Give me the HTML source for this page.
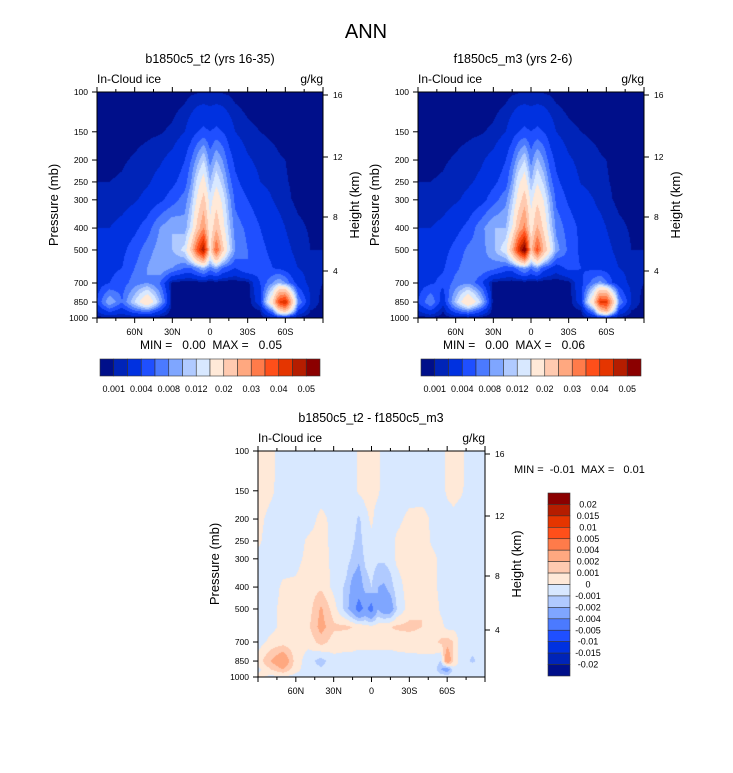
<!DOCTYPE html>
<html><head><meta charset="utf-8">
<style>
html,body{margin:0;padding:0;background:#fff;}
#wrap{position:relative;width:733px;height:773px;overflow:hidden;font-family:"Liberation Sans",sans-serif;}
canvas{position:absolute;}
svg{position:absolute;left:0;top:0;}
text{white-space:pre;}
</style></head>
<body>
<div id="wrap">
<canvas id="c1" style="left:97px;top:92px" width="226" height="226"></canvas>
<canvas id="c2" style="left:418px;top:92px" width="226" height="226"></canvas>
<canvas id="c3" style="left:258px;top:451px" width="227" height="226"></canvas>
<svg id="svg" width="733" height="773"></svg>
</div>
<script>
// ---- data ----
const lats=[90,80,70,60,50,40,30,20,15,10,5,0,-5,-10,-15,-20,-30,-40,-50,-55,-60,-65,-70,-80,-90];
const levs=[100,150,200,250,300,400,500,600,700,850,925,1000];
// in-cloud ice, units of 0.001 g/kg
const ice1=[
[.3,.3,.3,.3,.3,.3,.4,.6,.8,.9,.9,.9,.9,.9,.8,.6,.4,.3,.3,.3,.3,.3,.3,.3,.3],
[.5,.5,.6,.7,.8,.9,1.2,2,3,4,4.5,4,4.5,4,3,2,1.3,1,.8,.7,.6,.5,.4,.3,.3],
[.8,.8,.9,1.1,1.4,1.8,2.5,4,6,9,12,7,10,8,5,3.5,2.2,1.6,1.3,1.1,1,.8,.6,.5,.5],
[1,1,1.1,1.4,1.8,2.5,3.5,5,8,13,17,10,14,11,7,4.5,3,2,1.6,1.3,1.1,.9,.7,.6,.5],
[1.2,1.2,1.4,1.8,2.5,3.5,5,7,10,16,22,13,18,14,9,5.5,4,2.8,2,1.6,1.3,1,.8,.7,.6],
[2,2,2.5,3.5,5,8,10,9,13,22,30,16,24,17,11,7,5.5,4,3,2.5,2,1.5,1.2,.9,.8],
[2.5,3,3.5,5,7,9,10,13,22,38,50,18,36,22,13,8,6,4.5,3.5,3,2.5,2,1.5,1,1],
[3,3.5,4,6,8,10,8,6,6,8,10,7,9,6,5,4,6,5,4,3.5,3,2.5,2,1.5,1],
[3,4,5,7,8,6,.5,.3,.2,.2,.2,.2,.2,.2,.2,.3,.5,4,8,10,8,5,3,1.5,1],
[4,10,6,12,20,10,.3,.2,.2,.2,.2,.2,.2,.2,.2,.2,.3,3,20,40,45,25,8,2,.5],
[2,5,3,6,8,4,.3,.2,.2,.2,.2,.2,.2,.2,.2,.2,.3,1,8,20,25,15,4,1,.5],
[.5,.5,.5,.5,.5,.3,.2,.2,.2,.2,.2,.2,.2,.2,.2,.2,.2,.5,1,1,1,.5,.5,.5,.5]
];
const ice2=[
[.3,.3,.3,.3,.3,.3,.4,.6,.8,.9,.9,.9,.9,.9,.8,.6,.4,.3,.3,.3,.3,.3,.3,.3,.3],
[.5,.5,.6,.7,.8,.9,1.2,2,3,4,4.5,4,4.5,4,3,2,1.3,1,.8,.7,.6,.5,.4,.3,.3],
[.8,.8,.9,1.1,1.4,1.8,2.5,4,6,9.5,12,7,10.5,8,5,3.5,2.2,1.6,1.3,1.1,1,.8,.6,.5,.5],
[1,1,1.1,1.4,1.8,2.3,3.5,5,8.5,14,17.5,10,14.5,11.5,7,4.5,2.8,1.9,1.6,1.3,1.1,.9,.7,.6,.5],
[1.2,1.2,1.4,1.8,2.4,3.2,5,7.5,11,17,23,13.5,19,15,9.5,5.5,3.7,2.6,2,1.6,1.3,1,.8,.7,.6],
[2,2,2.4,3.3,4.6,7.2,10,10,15,25,32,17,26,19,12,7.5,5,3.5,2.8,2.5,2,1.5,1.2,.9,.8],
[2.5,3,3.3,4.7,6.5,7,9.5,14,25,43,56,23,38,25,16,9,5.5,3.5,3,3,2.5,2,1.5,1,1],
[3,3.5,3.8,5.5,7.2,7.5,6.8,5,5,7,9,6.5,8.5,5,4,2.8,4.7,4,3.4,3.2,3,2.5,2,1.5,1],
[3,3.7,4.5,6.7,7.7,4.5,.5,.3,.2,.2,.2,.2,.2,.2,.2,.3,.5,3.5,7.2,8.8,6.5,4,3,1.5,1],
[4,8,2.5,11,20.5,11.5,.3,.2,.2,.2,.2,.2,.2,.2,.2,.2,.3,3,20.5,41,41.5,24,8,2,.5],
[2,4,1,5.7,8.5,4.8,.3,.2,.2,.2,.2,.2,.2,.2,.2,.2,.3,1,8.5,22,28,15.5,4,1,.5],
[.5,.5,.5,.5,.5,.3,.2,.2,.2,.2,.2,.2,.2,.2,.2,.2,.2,.5,1,1,1,.5,.5,.5,.5]
];
// difference, units of 0.001 g/kg
const diff=[
[.5,.3,-.5,-.5,-.5,-.5,-.5,-.5,-.5,.3,.5,.5,.3,-.5,-.5,-.5,-.5,-.5,-.5,-.5,.3,.5,.3,-.5,-.5],
[.5,.2,-.5,-.5,-.5,-.5,-.5,-.5,-.5,.2,.3,.3,.2,-.5,-.5,-.5,-.5,-.5,-.5,-.5,.2,.4,.2,-.5,-.5],
[.3,-.3,-.5,-.5,-.5,.3,-.3,-.5,-.5,-1.2,-.3,.2,-.5,-.5,-.5,-.3,.3,.4,-.3,-.5,-.5,-.3,-.5,-.5,-.5],
[.2,-.5,-.5,-.5,.2,.4,-.3,-.5,-.8,-1.5,-.5,-.3,-.3,-.5,-.5,.2,.5,.5,-.3,-.5,-.5,-.5,-.5,-.5,-.5],
[-.3,-.5,-.5,-.3,.3,.5,-.3,-.6,-1.2,-1.8,-.8,-.5,-.8,-.8,-.5,.2,.5,.5,.2,-.3,-.4,-.4,-.5,-.5,-.5],
[-.5,-.5,.2,.2,.5,.8,-.3,-1.2,-2.5,-3,-1.5,-1,-2,-2.2,-1.5,-.5,.5,.5,.2,-.3,-.3,-.3,-.3,-.5,-.5],
[-.5,-.3,.3,.3,.5,2.2,.5,-1.5,-3,-5,-3.5,-5,-2,-3.2,-3,-1,.5,1,.5,-.2,-.3,-.3,-.3,-.5,-.5],
[-.5,-.3,.3,.5,.8,2.5,1.2,1.2,1,.8,.5,.3,.5,.8,1,1.2,1.3,1,.6,.3,-.3,-.3,-.3,-.5,-.5],
[-.5,.3,.5,.3,.3,1.5,.5,.3,.3,.2,.2,.2,.2,.2,.2,.3,.4,.5,.8,1.2,1.5,1,-.3,-.5,-.5],
[.5,2,3.5,.5,-.5,-1.5,-.3,-.3,-.3,-.3,-.3,-.3,-.3,-.3,-.3,-.3,-.3,-.3,-.5,-1,3.5,1,-.3,-1.2,-.3],
[-.3,1,2,.3,-.5,-.8,-.3,-.3,-.3,-.3,-.3,-.3,-.3,-.3,-.3,-.3,-.3,-.3,-.5,-2,-3,-.5,-.3,-.3,-.3],
[.3,-.3,-.3,-.3,-.3,-.3,-.3,-.3,-.3,-.3,-.3,-.3,-.3,-.3,-.3,-.3,-.3,-.3,-.3,-.3,-.3,-.3,-.3,-.3,-.3]
];
const iceLevels=[1,2,4,6,8,10,12,15,20,25,30,35,40,45,50];
const iceTickLabels=["0.001","0.004","0.008","0.012","0.02","0.03","0.04","0.05"];
const diffLevels=[-20,-15,-10,-5,-4,-2,-1,0,1,2,4,5,10,15,20];
const diffTickLabels=["-0.02","-0.015","-0.01","-0.005","-0.004","-0.002","-0.001","0","0.001","0.002","0.004","0.005","0.01","0.015","0.02"];
const palette=["#000f8a","#0024b8","#0031e0","#1f4fff","#4b7aff","#7fa6ff","#b0caff","#d8e8ff","#ffe9d8","#ffcab0","#ffa880","#ff7b4a","#ff4f1a","#e53500","#b51d00","#8b0000"];
const pTicks=[100,150,200,250,300,400,500,700,850,1000];
const latTicks=[60,30,0,-30,-60];
const latLabels=["60N","30N","0","30S","60S"];
const hTicks=[16,12,8,4];
const hOffsets=[3,65,125,179];

// ---- rendering ----
function hex(c){return [parseInt(c.slice(1,3),16),parseInt(c.slice(3,5),16),parseInt(c.slice(5,7),16)];}
const rgb=palette.map(hex);
function sample(g,lat,p){
  let i=0;while(i<lats.length-2&&lat<lats[i+1])i++;
  let fx=(lats[i]-lat)/(lats[i]-lats[i+1]);fx=Math.max(0,Math.min(1,fx));
  const lp=Math.log10(p);let j=0;while(j<levs.length-2&&lp>Math.log10(levs[j+1]))j++;
  let fy=(lp-Math.log10(levs[j]))/(Math.log10(levs[j+1])-Math.log10(levs[j]));fy=Math.max(0,Math.min(1,fy));
  const a=g[j][i],b=g[j][i+1],c=g[j+1][i],d=g[j+1][i+1];
  return (a*(1-fx)+b*fx)*(1-fy)+(c*(1-fx)+d*fx)*fy;
}
function draw(id,g,lv){
  const cv=document.getElementById(id),ctx=cv.getContext('2d');
  const w=cv.width,h=cv.height,im=ctx.createImageData(w,h);
  for(let y=0;y<h;y++){const p=100*Math.pow(10,(y+.5)/h);
    for(let x=0;x<w;x++){const lat=90-(x+.5)/w*180;const v=sample(g,lat,p);
      let col=[255,255,255];
      if(!isNaN(v)){let k=0;while(k<lv.length&&v>=lv[k])k++;col=rgb[k];}
      const o=(y*w+x)*4;im.data[o]=col[0];im.data[o+1]=col[1];im.data[o+2]=col[2];im.data[o+3]=255;}}
  ctx.putImageData(im,0,0);
}
draw('c1',ice1,iceLevels);draw('c2',ice2,iceLevels);draw('c3',diff,diffLevels);

const NS="http://www.w3.org/2000/svg",svg=document.getElementById('svg');
function el(tag,attrs,txt){const e=document.createElementNS(NS,tag);for(const k in attrs)e.setAttribute(k,attrs[k]);if(txt!==undefined)e.textContent=txt;svg.appendChild(e);return e;}
function text(x,y,s,size,anchor,name,extra){const t=el('text',Object.assign({x:x,y:y,'font-size':size,'text-anchor':anchor||'start','font-family':'Liberation Sans, sans-serif',fill:'#000'},extra||{}),s);


return t;}
function line(x1,y1,x2,y2,name){const l=el('line',{x1:x1,y1:y1,x2:x2,y2:y2,stroke:'#000','stroke-width':1});

}

text(366,38,"ANN",20,'middle','figure-title');
function panel(L,T,W,H,title,tx,minmax,mx,tag){
  text(tx,T-29,title,12.5,'middle','panel-title-'+tag);
  const fr=el('rect',{x:L,y:T,width:W,height:H,fill:'none',stroke:'#000','stroke-width':1});
  
  
  text(L,T-9,"In-Cloud ice",12,'start','subtitle-left-'+tag);
  text(L+W,T-9,"g/kg",12,'end','units-label-'+tag);
  pTicks.forEach(p=>{const y=T+H*Math.log10(p/100);line(L-5,y,L,y,'y-tick');text(L-9,y+3,String(p),8.5,'end','y-tick-label');});
  for(let la=90;la>=-90;la-=15){const x=L+(90-la)/180*W;const len=(la%30===0)?5:3;line(x,T+H,x,T+H+len,'x-tick');line(x,T,x,T-len,'x-top-tick');}
  latTicks.forEach((la,i)=>{const x=L+(90-la)/180*W;text(x,T+H+17,latLabels[i],9,'middle','x-tick-label');});
  hTicks.forEach((hk,i)=>{const y=T+hOffsets[i];line(L+W,y,L+W+5,y,'height-tick');text(L+W+10,y+3,String(hk),8.5,'start','height-tick-label');});
  const ly=T+H/2;
  text(0,0,"Pressure (mb)",13,'middle','y-axis-title',{transform:`translate(${L-39},${ly}) rotate(-90)`});
  text(0,0,"Height (km)",13,'middle','right-axis-title',{transform:`translate(${L+W+36},${ly}) rotate(-90)`});
  if(minmax)text(mx,T+H+31,minmax,12,'middle','min-max-label');
}
panel(97,92,226,226,"b1850c5_t2 (yrs 16-35)",210,"MIN =   0.00  MAX =   0.05",211,'p1');
panel(418,92,226,226,"f1850c5_m3 (yrs 2-6)",513,"MIN =   0.00  MAX =   0.06",514,'p2');
panel(258,451,227,226,"b1850c5_t2 - f1850c5_m3",371,null,0,'p3');
text(514,473,"MIN =  -0.01  MAX =   0.01",11,'start','diff-min-max-label');

function hbar(x0,y0,w,h,tag){
  const bw=w/palette.length;
  palette.forEach((c,i)=>{const r=el('rect',{x:x0+i*bw,y:y0,width:bw,height:h,fill:c,stroke:'#333','stroke-width':.6});
    
    });
  iceTickLabels.forEach((s,i)=>{const x=x0+(2*i+1)*bw;text(x,y0+h+16,s,9,'middle','colorbar-label-'+tag);});
}
hbar(100,359,220,17,'p1');hbar(421,359,220,17,'p2');
(function(){const x0=548,y0=493,w=22,h=183,bh=h/palette.length;
  palette.slice().reverse().forEach((c,i)=>{const r=el('rect',{x:x0,y:y0+i*bh,width:w,height:bh,fill:c,stroke:'#333','stroke-width':.6});
    
    });
  diffTickLabels.slice().reverse().forEach((s,i)=>{text(588,y0+(i+1)*bh+3,s,9,'middle','diff-colorbar-label');});
})();
</script>
</body></html>
